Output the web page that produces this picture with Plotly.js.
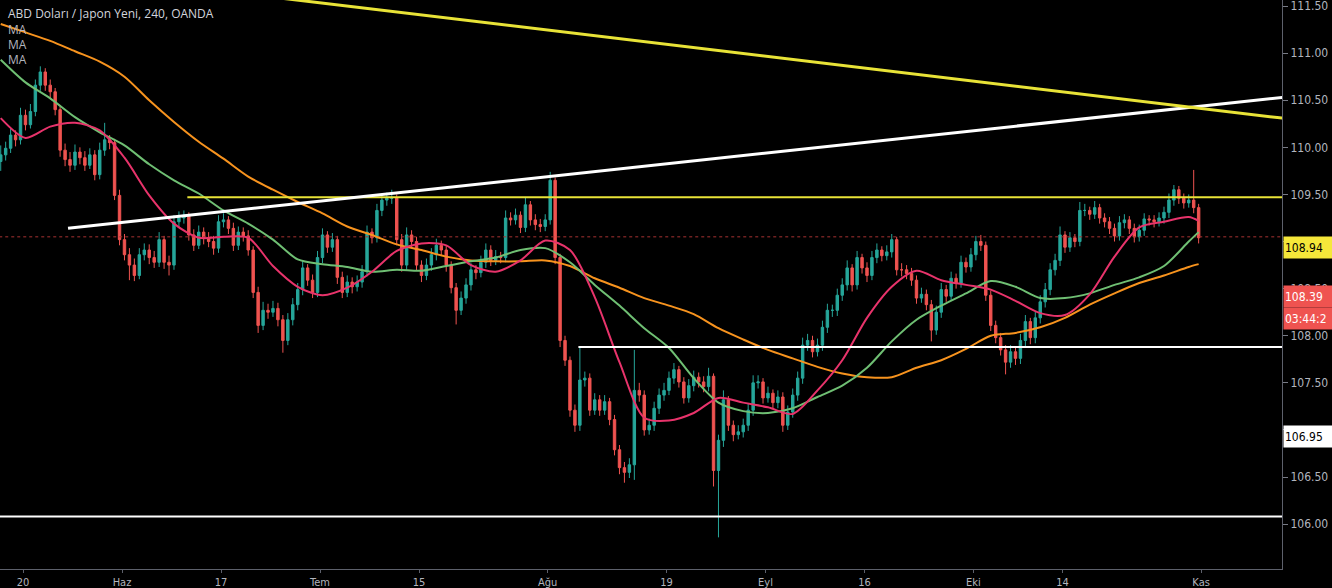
<!DOCTYPE html>
<html><head><meta charset="utf-8">
<script src="https://cdn.plot.ly/plotly-3.0.1.min.js"></script>
<style>html,body{margin:0;padding:0;background:#000;overflow:hidden;}#chart{width:1332px;height:588px;}</style>
</head><body><div id="chart"></div>
<script>
// Trading-day axis: day 0 = 20 May, weekends removed
const tickDays = [0,10,20,30,40,53,65,75,85,96,105,119];
const tickLabels = ["20","Haz","17","Tem","15","Ağu","19","Eyl","16","Eki","14","Kas"];
// Price scale ticks (109.00 and 107.00 sit under the price tags)
const priceTicks = [106.0,106.5,107.0,107.5,108.0,108.5,109.0,109.5,110.0,110.5,111.0,111.5];
const priceTickText = ["106.00","106.50","","107.50","108.00","108.50","","109.50","110.00","110.50","111.00","111.50"];

// 4h-ish candles (two per trading day), USD/JPY
const open = [
109.85,109.92,109.99,110.13,110.08,110.34,110.24,110.38,110.66,110.80,
110.66,110.59,110.40,109.97,109.87,109.81,109.95,109.89,109.81,109.92,
109.71,109.97,110.08,110.05,109.49,109.02,108.86,108.75,108.64,108.86,
108.91,108.83,108.78,109.02,108.78,108.75,109.21,109.25,109.28,109.07,
108.96,109.10,109.04,109.00,108.93,109.21,109.23,109.14,108.96,109.10,
109.06,108.91,108.46,108.11,108.27,108.25,108.29,108.17,107.95,108.17,
108.33,108.49,108.72,108.59,108.46,108.83,109.07,108.94,109.02,108.62,
108.46,108.57,108.52,108.57,108.68,109.10,109.04,109.33,109.44,109.46,
109.46,109.02,108.75,109.07,109.00,108.75,108.64,108.75,108.86,108.96,
108.91,108.75,108.51,108.27,108.40,108.54,108.70,108.67,108.78,108.91,
108.80,108.84,108.83,109.25,109.23,109.28,109.15,109.39,109.23,109.18,
109.16,109.23,109.65,108.83,107.95,107.74,107.21,107.05,107.53,107.55,
107.21,107.32,107.21,107.30,107.11,106.79,106.60,106.55,106.63,107.42,
107.37,107.00,107.05,107.23,107.37,107.42,107.55,107.64,107.51,107.34,
107.47,107.56,107.51,107.46,107.57,106.57,106.89,107.32,107.05,106.95,
106.98,107.05,107.21,107.50,107.51,107.34,107.39,107.29,107.35,107.05,
107.19,107.37,107.55,107.90,107.95,107.83,107.90,108.09,108.27,108.27,
108.43,108.54,108.72,108.54,108.83,108.72,108.64,108.83,108.91,108.85,
108.89,109.02,108.70,108.70,108.66,108.59,108.40,108.44,108.33,108.06,
108.25,108.49,108.42,108.61,108.56,108.78,108.73,108.86,109.00,108.96,
108.43,108.11,107.98,107.85,107.72,107.83,107.76,107.95,108.15,107.98,
108.19,108.36,108.49,108.70,108.80,109.07,108.94,109.04,109.00,109.33,
109.33,109.29,109.36,109.25,109.21,109.14,109.06,109.20,109.23,109.14,
109.05,109.12,109.24,109.23,109.21,109.25,109.31,109.44,109.55,109.46,
109.41,109.44,109.36];
const high = [
110.02,110.06,110.20,110.18,110.42,110.40,110.46,110.72,110.86,110.84,
110.72,110.63,110.45,110.04,109.95,110.03,110.00,109.96,109.99,109.97,
110.05,110.26,110.13,110.09,109.55,109.08,108.93,108.82,108.93,108.98,
108.97,108.90,109.10,109.06,108.85,109.28,109.32,109.33,109.31,109.13,
109.17,109.15,109.10,109.06,109.28,109.30,109.27,109.20,109.16,109.15,
109.12,108.95,108.52,108.36,108.34,108.37,108.35,108.22,108.24,108.40,
108.56,108.80,108.76,108.65,108.90,109.14,109.11,109.09,109.06,108.68,
108.64,108.62,108.64,108.75,109.17,109.14,109.40,109.50,109.52,109.55,
109.50,109.08,109.15,109.12,109.05,108.80,108.82,108.93,109.03,109.01,
108.96,108.79,108.56,108.47,108.61,108.77,108.75,108.85,108.98,108.96,
108.91,108.89,109.33,109.31,109.35,109.32,109.47,109.43,109.29,109.24,
109.29,109.74,109.68,108.87,108.00,107.78,107.27,107.89,107.62,107.60,
107.39,107.37,107.37,107.34,107.16,106.84,106.66,106.70,107.85,107.50,
107.42,107.12,107.30,107.44,107.50,107.62,107.71,107.68,107.56,107.54,
107.63,107.61,107.57,107.66,107.60,106.95,107.42,107.36,107.10,107.05,
107.12,107.28,107.58,107.58,107.55,107.46,107.43,107.42,107.40,107.26,
107.44,107.62,107.98,108.02,108.00,107.97,108.16,108.34,108.33,108.50,
108.61,108.80,108.76,108.90,108.87,108.78,108.90,108.98,108.95,108.96,
109.08,109.05,108.77,108.75,108.72,108.64,108.51,108.49,108.38,108.32,
108.56,108.54,108.68,108.66,108.85,108.83,108.93,109.06,109.07,109.00,
108.48,108.16,108.03,107.90,107.90,107.88,108.02,108.22,108.19,108.26,
108.43,108.56,108.77,108.87,109.16,109.11,109.10,109.08,109.42,109.40,
109.37,109.43,109.40,109.30,109.26,109.19,109.27,109.29,109.27,109.19,
109.18,109.30,109.28,109.28,109.31,109.37,109.51,109.60,109.59,109.51,
109.50,109.76,109.40];
const low = [
109.75,109.86,109.94,110.01,110.03,110.18,110.20,110.33,110.60,110.60,
110.52,110.34,109.90,109.80,109.74,109.76,109.82,109.75,109.77,109.65,
109.66,109.91,109.98,109.44,108.96,108.80,108.59,108.58,108.60,108.80,
108.76,108.72,108.73,108.71,108.64,108.70,109.15,109.19,109.01,108.90,
108.92,108.97,108.94,108.86,108.88,109.15,109.08,108.90,108.91,109.00,
108.85,108.40,108.03,108.06,108.18,108.20,108.10,107.82,107.90,108.11,
108.27,108.43,108.53,108.40,108.41,108.77,108.88,108.89,108.55,108.40,
108.41,108.45,108.47,108.51,108.63,108.98,108.99,109.27,109.38,109.40,
108.96,108.68,108.70,108.94,108.69,108.57,108.59,108.69,108.80,108.85,
108.68,108.45,108.12,108.22,108.34,108.48,108.60,108.62,108.72,108.74,
108.75,108.77,108.78,109.17,109.18,109.09,109.10,109.17,109.12,109.10,
109.11,109.18,108.76,107.88,107.68,107.14,106.98,106.99,107.46,107.15,
107.16,107.15,107.16,107.05,106.73,106.53,106.44,106.49,106.47,107.30,
106.94,106.95,106.99,107.17,107.31,107.37,107.49,107.45,107.28,107.29,
107.41,107.45,107.40,107.41,106.40,105.86,106.82,106.99,106.88,106.90,
106.92,106.99,107.15,107.44,107.28,107.29,107.22,107.23,106.98,107.00,
107.13,107.31,107.49,107.84,107.77,107.78,107.84,108.03,108.20,108.21,
108.37,108.48,108.47,108.49,108.66,108.57,108.59,108.77,108.79,108.80,
108.83,108.64,108.63,108.60,108.53,108.34,108.35,108.27,107.94,108.01,
108.19,108.36,108.37,108.50,108.51,108.67,108.68,108.80,108.90,108.37,
108.05,107.92,107.79,107.59,107.66,107.69,107.70,107.89,107.91,107.92,
108.13,108.30,108.43,108.64,108.74,108.88,108.89,108.94,108.95,109.27,
109.23,109.24,109.19,109.15,109.08,109.00,109.01,109.14,109.08,108.99,
109.00,109.06,109.17,109.15,109.16,109.19,109.25,109.38,109.40,109.35,
109.36,109.30,108.98];
const close = [
109.92,109.99,110.13,110.08,110.34,110.24,110.38,110.66,110.80,110.66,
110.59,110.40,109.97,109.87,109.81,109.95,109.89,109.81,109.92,109.71,
109.97,110.08,110.05,109.49,109.02,108.86,108.75,108.64,108.86,108.91,
108.83,108.78,109.02,108.78,108.75,109.21,109.25,109.28,109.07,108.96,
109.10,109.04,109.00,108.93,109.21,109.23,109.14,108.96,109.10,109.06,
108.91,108.46,108.11,108.27,108.25,108.29,108.17,107.95,108.17,108.33,
108.49,108.72,108.59,108.46,108.83,109.07,108.94,109.02,108.62,108.46,
108.57,108.52,108.57,108.68,109.10,109.04,109.33,109.44,109.46,109.46,
109.02,108.75,109.07,109.00,108.75,108.64,108.75,108.86,108.96,108.91,
108.75,108.51,108.27,108.40,108.54,108.70,108.67,108.78,108.91,108.80,
108.84,108.83,109.25,109.23,109.28,109.15,109.39,109.23,109.18,109.16,
109.23,109.65,108.83,107.95,107.74,107.21,107.05,107.53,107.55,107.21,
107.32,107.21,107.30,107.11,106.79,106.60,106.55,106.63,107.42,107.37,
107.00,107.05,107.23,107.37,107.42,107.55,107.64,107.51,107.34,107.47,
107.56,107.51,107.46,107.57,106.57,106.89,107.32,107.05,106.95,106.98,
107.05,107.21,107.50,107.51,107.34,107.39,107.29,107.35,107.05,107.19,
107.37,107.55,107.90,107.95,107.83,107.90,108.09,108.27,108.27,108.43,
108.54,108.72,108.54,108.83,108.72,108.64,108.83,108.91,108.85,108.89,
109.02,108.70,108.70,108.66,108.59,108.40,108.44,108.33,108.06,108.25,
108.49,108.42,108.61,108.56,108.78,108.73,108.86,109.00,108.96,108.43,
108.11,107.98,107.85,107.72,107.83,107.76,107.95,108.15,107.98,108.19,
108.36,108.49,108.70,108.80,109.07,108.94,109.04,109.00,109.33,109.33,
109.29,109.36,109.25,109.21,109.14,109.06,109.20,109.23,109.14,109.05,
109.12,109.24,109.23,109.21,109.25,109.31,109.44,109.55,109.46,109.41,
109.44,109.36,109.04];

// Moving averages, read every 5th candle (last point = last candle)
const maPink = [110.31,110.10,110.22,110.26,110.18,109.89,109.49,109.19,109.04,109.05,
109.04,108.74,108.52,108.43,108.51,108.68,108.90,108.98,108.96,108.75,
108.68,108.80,109.01,108.91,108.41,107.72,107.13,107.10,107.18,107.34,
107.29,107.24,107.17,107.42,107.74,108.19,108.52,108.69,108.59,108.54,
108.49,108.37,108.24,108.22,108.44,108.84,109.15,109.21,109.26,109.22];
const maGreen = [110.93,110.69,110.52,110.32,110.16,110.02,109.82,109.65,109.51,109.33,
109.19,109.02,108.81,108.76,108.73,108.68,108.70,108.69,108.74,108.79,
108.83,108.91,108.93,108.78,108.54,108.32,108.08,107.87,107.55,107.29,
107.20,107.18,107.23,107.35,107.47,107.66,107.94,108.17,108.32,108.45,
108.58,108.52,108.40,108.40,108.45,108.54,108.62,108.74,109.00,109.10];
const maOrange = [111.31,111.22,111.13,111.02,110.91,110.75,110.50,110.27,110.06,109.88,
109.69,109.55,109.42,109.30,109.16,109.07,108.97,108.91,108.84,108.80,
108.79,108.79,108.80,108.74,108.61,108.51,108.40,108.32,108.23,108.08,
107.96,107.85,107.76,107.67,107.60,107.56,107.56,107.66,107.74,107.86,
108.00,108.03,108.09,108.19,108.33,108.45,108.56,108.64,108.73,108.76];

// Drawn trend lines and levels (trading-day x, price y)
const descTrendX = [20, 127.2], descTrendY = [111.66, 110.31];
const ascTrendX = [4.55, 127.2], ascTrendY = [109.14, 110.53];
const resistX = [16.6, 127.2], resistY = [109.47, 109.47];
const midSupportX = [56.1, 127.2], midSupportY = [107.88, 107.88];
const lowSupportX = [-2.4, 127.2], lowSupportY = [106.08, 106.08];
const lastLineX = [-2.4, 127.2], lastLineY = [109.05, 109.05];

// Price tags on the right scale
const tagTexts = ["108.94", "108.39", "03:44:2", "106.95"];
const tagPrices = [108.94, 108.42, 108.18, 106.93];

const candleX = close.map((_, i) => -2.25 + 0.5 * i);
const maX = maPink.map((_, k) => k < maPink.length - 1 ? -2.25 + 2.5 * k : candleX[candleX.length - 1]);

const lbl = '"Open Sans", "Noto Sans", sans-serif';
const axf = '"DejaVu Sans Condensed", "Liberation Sans Narrow", "DejaVu Sans", sans-serif';

function seg(x, y, color, width, dash) {
  return {type: 'scatter', mode: 'lines', x: x, y: y, hoverinfo: 'skip',
          line: {color: color, width: width, dash: dash || 'solid'}, showlegend: false};
}
function ma(y, color) {
  return {type: 'scatter', mode: 'lines', x: maX, y: y, hoverinfo: 'skip', showlegend: false,
          line: {color: color, width: 2, shape: 'spline', smoothing: 0.8}};
}

const traces = [
  seg(lastLineX, lastLineY, '#a83232', 1, 'dot'),
  {type: 'candlestick', x: candleX, open: open, high: high, low: low, close: close,
   hoverinfo: 'skip', showlegend: false, whiskerwidth: 0,
   increasing: {line: {color: '#26a69a', width: 1}, fillcolor: '#26a69a'},
   decreasing: {line: {color: '#ef5350', width: 1}, fillcolor: '#ef5350'}},
  ma(maOrange, '#f7931e'),
  ma(maGreen, '#6fbf73'),
  ma(maPink, '#e8336b'),
  seg(resistX, resistY, '#e8e337', 2),
  seg(midSupportX, midSupportY, '#ffffff', 2),
  seg(lowSupportX, lowSupportY, '#ffffff', 2),
  seg(ascTrendX, ascTrendY, '#ffffff', 3),
  seg(descTrendX, descTrendY, '#e8e337', 3)
];

const tagStyles = [
  {bg: '#f5e73a', fg: '#000000'},
  {bg: '#ef5350', fg: '#ffffff'},
  {bg: '#ef5350', fg: '#ffffff'},
  {bg: '#ffffff', fg: '#000000'}
];
const annotations = tagTexts.map((t, k) => ({
  xref: 'paper', yref: 'y', x: 1, y: tagPrices[k], xanchor: 'left', yanchor: 'middle',
  xshift: 1, text: t, showarrow: false, align: 'left', width: 52, height: 19,
  bgcolor: tagStyles[k].bg, borderpad: 1,
  font: {family: axf, size: 12, color: tagStyles[k].fg}
}));
const headLines = ["ABD Doları / Japon Yeni, 240, OANDA", "MA", "MA", "MA"];
const headY = [13, 29, 44, 59];
headLines.forEach((t, k) => annotations.push({
  xref: 'paper', yref: 'paper', x: 0, y: 1, xanchor: 'left', yanchor: 'middle',
  xshift: 6, yshift: -headY[k], text: t, showarrow: false,
  font: {family: lbl, size: 12, color: k === 0 ? '#d1d4dc' : '#b2b5be'}
}));

const layout = {
  width: 1332, height: 588,
  paper_bgcolor: '#000000', plot_bgcolor: '#000000',
  margin: {l: 0, r: 50, t: 0, b: 19},
  showlegend: false, hovermode: false,
  xaxis: {range: [-2.323, 127.17], tickmode: 'array', tickvals: tickDays, ticktext: tickLabels,
          showgrid: false, zeroline: false, showline: true, linecolor: '#5d606b', linewidth: 1,
          ticks: 'outside', ticklen: 3, tickcolor: '#5d606b',
          tickfont: {family: axf, size: 11, color: '#b2b5be'},
          rangeslider: {visible: false}, fixedrange: true},
  yaxis: {side: 'right', range: [105.524, 111.564], tickmode: 'array',
          tickvals: priceTicks, ticktext: priceTickText, ticklabeloverflow: 'allow',
          showgrid: false, zeroline: false, showline: true, linecolor: '#5d606b', linewidth: 1,
          ticks: 'outside', ticklen: 5, tickcolor: '#787b86',
          tickfont: {family: axf, size: 12, color: '#b2b5be'}, fixedrange: true},
  annotations: annotations
};

Plotly.newPlot('chart', traces, layout, {displayModeBar: false, staticPlot: true});
</script>
</body></html>
